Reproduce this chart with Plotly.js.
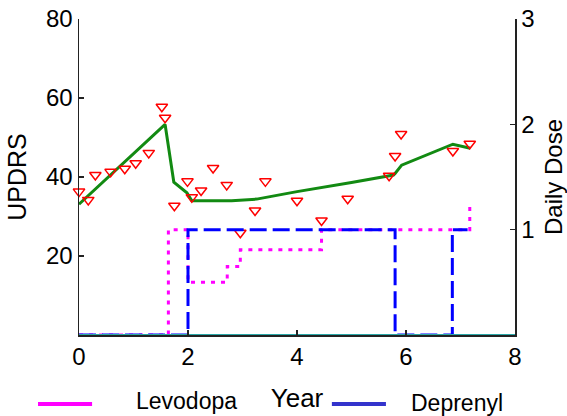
<!DOCTYPE html>
<html>
<head>
<meta charset="utf-8">
<script src="https://cdn.plot.ly/plotly-3.0.1.min.js"></script>
<style>
  html, body { margin: 0; padding: 0; background: #fff; }
  #chart { width: 567px; height: 416px; }
</style>
</head>
<body>
<div id="chart"></div>
<script>
// Observed UPDRS scores by year
const obsYears = [0, 0.17, 0.3, 0.58, 0.84, 1.04, 1.28, 1.52, 1.58, 1.75, 1.99, 2.07, 2.24, 2.46, 2.71, 2.96, 3.23, 3.42, 4.0, 4.45, 4.93, 5.69, 5.8, 5.91, 6.86, 7.17];
const obsUpdrs = [36.3, 34.2, 40.5, 41.3, 42.1, 43.5, 46.1, 57.8, 55.0, 32.7, 38.9, 34.9, 36.6, 42.3, 38.0, 25.9, 31.5, 38.9, 34.0, 29.0, 34.5, 40.3, 45.3, 50.9, 46.6, 48.4];

// Fitted UPDRS trajectory
const fitYears = [0, 1.58, 1.74, 1.98, 2.07, 2.8, 3.26, 4.0, 5.0, 5.77, 5.8, 5.92, 6.86, 7.18];
const fitUpdrs = [33.1, 53.3, 38.7, 36.0, 34.0, 34.0, 34.4, 36.3, 38.6, 40.5, 40.9, 43.0, 48.3, 47.3];

// Daily dose step series
const levodopaYears = [0, 1.64, 2.0, 2.72, 2.96, 4.45, 7.17];
const levodopaDose  = [0, 1, 0.5, 0.65, 0.81, 1, 1.27];
const deprenylYears = [0, 2.0, 5.8, 6.85, 7.13];
const deprenylDose  = [0, 1, 0, 1, 1];
const otherYears = [0, 8];
const otherDose  = [0, 0];

// Axis ticks
const xTicks = [0, 2, 4, 6, 8];
const updrsTicks = [20, 40, 60, 80];
const doseTicks = [1, 2, 3];

const legendNames = ['Levodopa', 'Deprenyl'];

const FONT = 'Liberation Sans, Arial, Helvetica, sans-serif';
const MAGENTA = '#ff00ff';
const BLUE = '#0000ff';
const LEGEND_BLUE = '#3333cc';

const traces = [
  {
    x: levodopaYears, y: levodopaDose, yaxis: 'y2', type: 'scatter', mode: 'lines',
    line: { shape: 'hv', color: MAGENTA, width: 3, dash: '4px,6px' },
    cliponaxis: false, showlegend: false, hoverinfo: 'skip'
  },
  {
    x: deprenylYears, y: deprenylDose, yaxis: 'y2', type: 'scatter', mode: 'lines',
    line: { shape: 'hv', color: BLUE, width: 3, dash: '17px,6px' },
    cliponaxis: false, showlegend: false, hoverinfo: 'skip'
  },
  {
    x: otherYears, y: otherDose, yaxis: 'y2', type: 'scatter', mode: 'lines',
    line: { color: '#2aa7a7', width: 2 },
    cliponaxis: false, showlegend: false, hoverinfo: 'skip'
  },
  {
    x: fitYears, y: fitUpdrs, type: 'scatter', mode: 'lines',
    line: { color: '#128a12', width: 3 },
    cliponaxis: false, showlegend: false
  },
  {
    x: obsYears, y: obsUpdrs, type: 'scatter', mode: 'markers',
    marker: { symbol: 'triangle-down-open', size: 10, color: '#ff0000', line: { width: 1.5, color: '#ff0000' } },
    cliponaxis: false, showlegend: false
  }
];

// Legend drawn beneath the axis, in paper coordinates
const shapes = [
  { type: 'line', xref: 'paper', yref: 'paper', x0: -0.094, x1: 0.030, y0: -0.218, y1: -0.218, line: { color: MAGENTA, width: 4 } },
  { type: 'line', xref: 'paper', yref: 'paper', x0: 0.580, x1: 0.704, y0: -0.218, y1: -0.218, line: { color: LEGEND_BLUE, width: 4 } }
];
const annotations = [
  { xref: 'paper', yref: 'paper', x: 0.127, y: -0.209, xanchor: 'left', yanchor: 'middle', text: legendNames[0], showarrow: false, font: { family: FONT, size: 23, color: '#000' } },
  { xref: 'paper', yref: 'paper', x: 0.757, y: -0.215, xanchor: 'left', yanchor: 'middle', text: legendNames[1], showarrow: false, font: { family: FONT, size: 23, color: '#000' } }
];

const axisCommon = {
  showgrid: false, zeroline: false, showline: true, linecolor: '#222', linewidth: 1.5,
  ticks: 'inside', ticklen: 5, tickwidth: 1.2, tickcolor: '#222',
  tickfont: { family: FONT, size: 24, color: '#000' }
};

const layout = {
  width: 567, height: 416,
  margin: { l: 79, r: 52, t: 19, b: 81, pad: 0 },
  paper_bgcolor: '#fff', plot_bgcolor: '#fff',
  font: { family: FONT, color: '#000' },
  showlegend: false,
  xaxis: Object.assign({}, axisCommon, {
    range: [0, 8], tickvals: xTicks, ticktext: xTicks.map(String),
    title: { text: 'Year', font: { family: FONT, size: 26, color: '#000' }, standoff: 19 }
  }),
  yaxis: Object.assign({}, axisCommon, {
    range: [0, 80], tickvals: updrsTicks, ticktext: updrsTicks.map(String),
    title: { text: 'UPDRS', font: { family: FONT, size: 25, color: '#000' }, standoff: 12 }
  }),
  yaxis2: Object.assign({}, axisCommon, {
    range: [0, 3], tickvals: doseTicks, ticktext: doseTicks.map(String),
    overlaying: 'y', side: 'right',
    title: { text: 'Daily Dose', font: { family: FONT, size: 24, color: '#000' }, standoff: 20 }
  }),
  shapes: shapes,
  annotations: annotations
};

Plotly.newPlot('chart', traces, layout, { displayModeBar: false, staticPlot: true });
</script>
</body>
</html>
